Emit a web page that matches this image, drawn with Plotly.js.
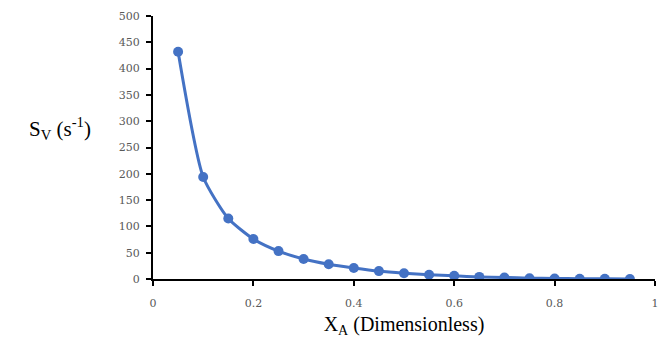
<!DOCTYPE html>
<html>
<head>
<meta charset="utf-8">
<script src="https://cdn.plot.ly/plotly-3.0.1.min.js"></script>
<style>html,body{margin:0;padding:0;background:#fff;}#chart{width:670px;height:343px;}</style>
</head>
<body>
<div id="chart"></div>
<script>
const xA = [0.05,0.10,0.15,0.20,0.25,0.30,0.35,0.40,0.45,0.50,0.55,0.60,0.65,0.70,0.75,0.80,0.85,0.90,0.95];
const sV = [432,194,115,76,53,38,28,21,15,11,8,6,4,3,1.5,1,0.5,0.3,0.1];
const xTickVals = [0,0.2,0.4,0.6,0.8,1];
const xTickText = ['0','0.2','0.4','0.6','0.8','1'];
const yTickVals = [0,50,100,150,200,250,300,350,400,450,500];

const trace = {
  x: xA, y: sV, type: 'scatter', mode: 'lines+markers',
  line: {color: '#4472C4', width: 3, shape: 'spline', smoothing: 0.6},
  marker: {color: '#4472C4', size: 10},
  hoverinfo: 'skip'
};
const tickFont = {family: 'DejaVu Serif', size: 11, color: '#595959'};
const titleFamily = '"Times New Roman", "Liberation Serif", Times, serif';
const layout = {
  width: 670, height: 343,
  margin: {l: 153, r: 15, t: 16, b: 64},
  paper_bgcolor: '#fff', plot_bgcolor: '#fff',
  showlegend: false,
  font: {family: titleFamily},
  xaxis: {
    range: [0, 1], tickvals: xTickVals, ticktext: xTickText,
    showgrid: false, zeroline: false, showline: true, linecolor: '#000', linewidth: 2,
    ticks: 'outside', ticklen: 5, tickwidth: 2, tickcolor: '#000',
    ticklabelstandoff: 8,
    tickfont: tickFont,
    title: {text: 'X<sub>A</sub> (Dimensionless)', font: {family: titleFamily, size: 20, color: '#000'}, standoff: 8}
  },
  yaxis: {
    range: [0, 500], tickvals: yTickVals,
    showgrid: false, zeroline: false, showline: true, linecolor: '#000', linewidth: 2,
    ticks: 'outside', ticklen: 5, tickwidth: 2, tickcolor: '#000',
    ticklabelstandoff: 4,
    tickfont: tickFont
  },
  annotations: [{
    xref: 'paper', yref: 'paper', x: -0.185, y: 0.574, xanchor: 'center', yanchor: 'middle',
    text: 'S<sub>V</sub> (s<sup>-1</sup>)', showarrow: false,
    font: {family: titleFamily, size: 21, color: '#000'}
  }]
};
Plotly.newPlot('chart', [trace], layout, {displayModeBar: false, staticPlot: true});
</script>
</body>
</html>
